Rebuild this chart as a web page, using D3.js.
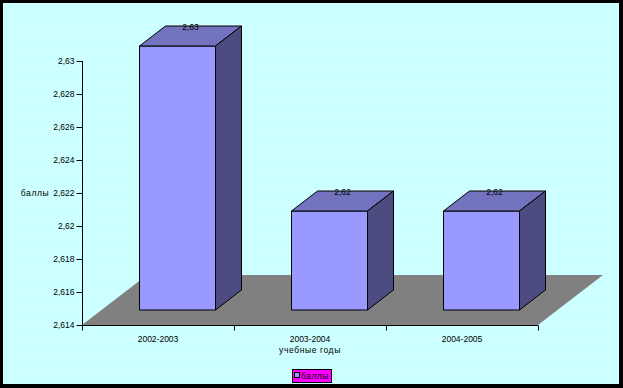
<!DOCTYPE html>
<html><head><meta charset="utf-8">
<script src="https://cdn.jsdelivr.net/npm/d3@7"></script>
<style>html,body{margin:0;padding:0;background:#000;}svg{display:block;}</style>
</head><body>
<script>
const categories = ["2002-2003", "2003-2004", "2004-2005"];
const values = [2.63, 2.62, 2.62];
const valueLabels = ["2,63", "2,62", "2,62"];
const yTicks = [2.614, 2.616, 2.618, 2.62, 2.622, 2.624, 2.626, 2.628, 2.63];
const seriesName = "баллы";
const xTitle = "учебные годы";
const yTitle = "баллы";

const W = 623, H = 388;
const svg = d3.select("body").append("svg").attr("width", W).attr("height", H);
const font = "Arial, 'Liberation Sans', sans-serif";

// background
svg.append("rect").attr("width", W).attr("height", H).attr("fill", "#000");
svg.append("rect").attr("x", 3).attr("y", 3).attr("width", 616).attr("height", 381).attr("fill", "#CCFFFF");
const defs = svg.append("defs");
const pat = defs.append("pattern").attr("id", "dots").attr("patternUnits", "userSpaceOnUse")
  .attr("x", 0).attr("y", 9).attr("width", 4).attr("height", 15);
pat.append("rect").attr("x", 1).attr("y", 0).attr("width", 1).attr("height", 1).attr("fill", "#ffffff").attr("opacity", 0.9);
svg.append("rect").attr("x", 22).attr("y", 22).attr("width", 595).attr("height", 360).attr("fill", "url(#dots)");

const x = d3.scaleBand().domain(categories).range([82, 538]).paddingInner(0.5).paddingOuter(0.25);
const y = d3.scaleLinear().domain([2.614, 2.63]).range([325, 61]);
const step = x.step();
const x0 = 82, x1 = 538, yb = y(2.614);

// floor depth
const DX = 65, DY = -50;
svg.append("path")
  .attr("d", `M${x0},${yb}L${x1},${yb}L${x1 + DX},${yb + DY}L${x0 + DX},${yb + DY}Z`)
  .attr("fill", "#808080");

// axes
const yAxis = d3.axisLeft(y).tickValues(yTicks).tickSize(6).tickPadding(2)
  .tickFormat(d => d3.format(".3~f")(d).replace(".", ","));
const gy = svg.append("g").attr("transform", `translate(${x0 + 0.5},0)`).call(yAxis);
gy.select(".domain").attr("d", `M0,${y(2.63)}V${yb}`).attr("stroke", "#000");
gy.selectAll(".tick line").attr("stroke", "#000");
gy.selectAll("text").attr("font-family", font).attr("font-size", "8.5px").attr("fill", "#000");

const gx = svg.append("g").attr("transform", `translate(0,${yb + 0.5})`);
gx.append("line").attr("x1", x0).attr("x2", x1).attr("stroke", "#000");
const bounds = [x0].concat(categories.map(c => x(c) - (step - x.bandwidth()) / 2 + step));
gx.selectAll(".tk").data(bounds).join("line")
  .attr("x1", d => Math.round(d) + 0.5).attr("x2", d => Math.round(d) + 0.5)
  .attr("y1", 0).attr("y2", 5).attr("stroke", "#000");
gx.selectAll(".cl").data(categories).join("text")
  .attr("x", d => x(d) + x.bandwidth() / 2).attr("y", 16)
  .attr("text-anchor", "middle").attr("font-family", font).attr("font-size", "8.5px").text(d => d);
gx.append("text").attr("x", (x0 + x1) / 2).attr("y", 27).attr("text-anchor", "middle")
  .attr("font-family", font).attr("font-size", "8.5px").attr("letter-spacing", "0.6px").text(xTitle);

svg.append("text").attr("x", 35).attr("y", y(2.622) + 3).attr("text-anchor", "middle")
  .attr("font-family", font).attr("font-size", "8.5px").attr("letter-spacing", "0.6px").text(yTitle);

// bars
const ox = 19.5, oy = -15, bdx = 26, bdy = -20;
const g = svg.append("g");
categories.forEach((c, i) => {
  const l = x(c) + ox, r = l + x.bandwidth();
  const t = y(values[i]) + oy, b = yb + oy;
  const bg = g.append("g").attr("stroke", "#000").attr("stroke-width", 1).attr("stroke-linejoin", "round");
  bg.append("path").attr("d", `M${l},${t}L${r},${t}L${r},${b}L${l},${b}Z`).attr("fill", "#9999FF");
  bg.append("path").attr("d", `M${l},${t}L${l + bdx},${t + bdy}L${r + bdx},${t + bdy}L${r},${t}Z`).attr("fill", "#7373BF");
  bg.append("path").attr("d", `M${r},${t}L${r + bdx},${t + bdy}L${r + bdx},${b + bdy}L${r},${b}Z`).attr("fill", "#4C4C80");
  svg.append("text").attr("x", (l + r) / 2 + bdx / 2).attr("y", t + bdy + 4)
    .attr("text-anchor", "middle").attr("font-family", font).attr("font-size", "8.5px").text(valueLabels[i]);
});

// legend
const lg = svg.append("g");
lg.append("rect").attr("x", 292.5).attr("y", 369.5).attr("width", 39).attr("height", 13)
  .attr("fill", "#FF00FF").attr("stroke", "#000");
lg.append("rect").attr("x", 294.5).attr("y", 372.5).attr("width", 5).attr("height", 5)
  .attr("fill", "#9999FF").attr("stroke", "#000");
lg.append("text").attr("x", 301).attr("y", 379).attr("font-family", font).attr("font-size", "8.5px")
  .attr("letter-spacing", "0.5px").text(seriesName);
</script>
</body></html>
